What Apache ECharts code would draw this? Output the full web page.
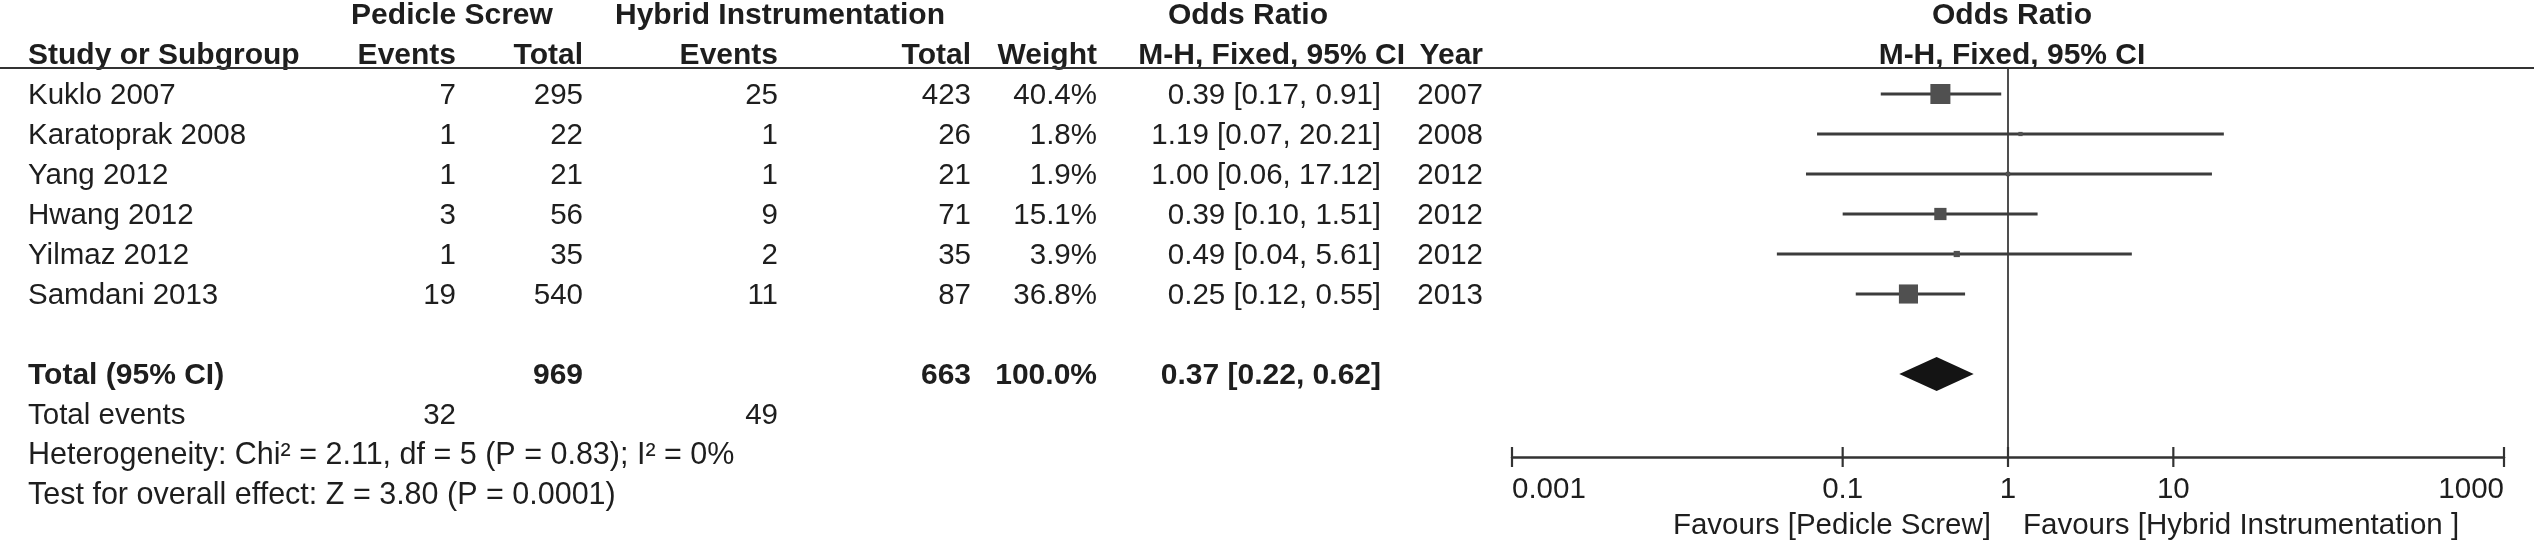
<!DOCTYPE html>
<html>
<head>
<meta charset="utf-8">
<script src="https://cdn.jsdelivr.net/npm/echarts@6/dist/echarts.min.js"></script>
<style>
html,body{margin:0;padding:0;background:#fff;}
#chart{width:2534px;height:544px;}
</style>
</head>
<body>
<div id="chart"></div>
<script>
// ---------------- data ----------------
const studies   = ['Kuklo 2007','Karatoprak 2008','Yang 2012','Hwang 2012','Yilmaz 2012','Samdani 2013'];
const psEvents  = [7, 1, 1, 3, 1, 19];
const psTotal   = [295, 22, 21, 56, 35, 540];
const hiEvents  = [25, 1, 1, 9, 2, 11];
const hiTotal   = [423, 26, 21, 71, 35, 87];
const weights   = [40.4, 1.8, 1.9, 15.1, 3.9, 36.8];
const orValues  = [0.39, 1.19, 1.00, 0.39, 0.49, 0.25];
const ciLow     = [0.17, 0.07, 0.06, 0.10, 0.04, 0.12];
const ciHigh    = [0.91, 20.21, 17.12, 1.51, 5.61, 0.55];
const years     = [2007, 2008, 2012, 2012, 2012, 2013];
const pooledOR  = [0.37, 0.22, 0.62];      // estimate, low, high
const pooledTotals = [969, 663];
const pooledWeight = 100.0;
const totalEvents  = [32, 49];
const heterogeneity = 'Heterogeneity: Chi\u00b2 = 2.11, df = 5 (P = 0.83); I\u00b2 = 0%';
const overallTest   = 'Test for overall effect: Z = 3.80 (P = 0.0001)';
const xTicks      = [0.001, 0.1, 1, 10, 1000];
const xTickLabels = ['0.001', '0.1', '1', '10', '1000'];
const favourLeft  = 'Favours [Pedicle Screw]';
const favourRight = 'Favours [Hybrid Instrumentation ]';

// ---------------- layout ----------------
const FONT = "'Liberation Sans', Arial, Helvetica, sans-serif";
const REG = 29.5, BOLD = 30, FOOT = 30.5;
const TXT = '#1e1e1e';
const colX = {study:28, psE:456, psT:583, hiE:778, hiT:971, wt:1097, orTxt:1381, orHead:1405, year:1483,
              psHead:452, hiHead:780, orHead1:1248, plotHead:2012};
const TOTAL_ROW = 7;

const fmtOR = (o,l,h) => o.toFixed(2) + ' [' + l.toFixed(2) + ', ' + h.toFixed(2) + ']';

// table cells
const cells = [];
function cell(t, col, row, align, bold, size){ cells.push({t:String(t), col, row, align, bold:!!bold, size}); }
cell('Pedicle Screw','psHead',-2,'center',true);
cell('Hybrid Instrumentation','hiHead',-2,'center',true);
cell('Odds Ratio','orHead1',-2,'center',true);
cell('Odds Ratio','plotHead',-2,'center',true);
cell('Study or Subgroup','study',-1,'left',true);
cell('Events','psE',-1,'right',true);
cell('Total','psT',-1,'right',true);
cell('Events','hiE',-1,'right',true);
cell('Total','hiT',-1,'right',true);
cell('Weight','wt',-1,'right',true);
cell('M-H, Fixed, 95% CI','orHead',-1,'right',true);
cell('Year','year',-1,'right',true);
cell('M-H, Fixed, 95% CI','plotHead',-1,'center',true);
studies.forEach((s,i)=>{
  cell(s,'study',i,'left');
  cell(psEvents[i],'psE',i,'right');
  cell(psTotal[i],'psT',i,'right');
  cell(hiEvents[i],'hiE',i,'right');
  cell(hiTotal[i],'hiT',i,'right');
  cell(weights[i].toFixed(1)+'%','wt',i,'right');
  cell(fmtOR(orValues[i],ciLow[i],ciHigh[i]),'orTxt',i,'right');
  cell(years[i],'year',i,'right');
});
cell('Total (95% CI)','study',TOTAL_ROW,'left',true);
cell(pooledTotals[0],'psT',TOTAL_ROW,'right',true);
cell(pooledTotals[1],'hiT',TOTAL_ROW,'right',true);
cell(pooledWeight.toFixed(1)+'%','wt',TOTAL_ROW,'right',true);
cell(fmtOR(pooledOR[0],pooledOR[1],pooledOR[2]),'orTxt',TOTAL_ROW,'right',true);
cell('Total events','study',8,'left');
cell(totalEvents[0],'psE',8,'right');
cell(totalEvents[1],'hiE',8,'right');
cell(heterogeneity,'study',9,'left',false,FOOT);
cell(overallTest,'study',10,'left',false,FOOT);

const chart = echarts.init(document.getElementById('chart'), null, {renderer:'canvas'});

const option = {
  backgroundColor:'#ffffff',
  animation:false,
  grid:{left:1512, right:30, top:68, height:389},
  xAxis:{type:'log', logBase:10, min:0.001, max:1000,
    axisLine:{show:true, onZero:false, lineStyle:{color:'#333', width:2.5}},
    axisTick:{show:false}, axisLabel:{show:false}, splitLine:{show:false}},
  yAxis:{type:'value', min:-0.65, max:9.075, inverse:true, show:false, splitLine:{show:false}},
  graphic:[{type:'line', shape:{x1:0,y1:68,x2:2534,y2:68}, style:{stroke:'#333', lineWidth:2.2}, z:10}],
  series:[
    { // line of no effect
      type:'custom', clip:false, z:2,
      data:[[1]],
      renderItem:(params, api)=>{
        const cs = params.coordSys;
        const p = api.coord([api.value(0), 0]);
        return {type:'line', shape:{x1:p[0], y1:cs.y, x2:p[0], y2:cs.y+cs.height},
                style:{stroke:'#222', lineWidth:1.6}};
      }
    },
    { // study CIs and weighted squares
      type:'custom', clip:false, z:3,
      data: studies.map((s,i)=>[orValues[i], ciLow[i], ciHigh[i], i, weights[i]]),
      renderItem:(params, api)=>{
        const row = api.value(3);
        const c = api.coord([api.value(0), row]);
        const l = api.coord([api.value(1), row]);
        const h = api.coord([api.value(2), row]);
        const side = 3.15*Math.sqrt(api.value(4));
        return {type:'group', children:[
          {type:'line', shape:{x1:l[0], y1:c[1], x2:h[0], y2:c[1]}, style:{stroke:'#3c3c3c', lineWidth:3}},
          {type:'rect', shape:{x:c[0]-side/2, y:c[1]-side/2, width:side, height:side}, style:{fill:'#505050'}}
        ]};
      }
    },
    { // pooled diamond
      type:'custom', clip:false, z:3,
      data:[[pooledOR[0], pooledOR[1], pooledOR[2], TOTAL_ROW]],
      renderItem:(params, api)=>{
        const row = api.value(3);
        const c = api.coord([api.value(0), row]);
        const l = api.coord([api.value(1), row]);
        const h = api.coord([api.value(2), row]);
        const hh = 17;
        return {type:'polygon', shape:{points:[[l[0],c[1]],[c[0],c[1]-hh],[h[0],c[1]],[c[0],c[1]+hh]]},
                style:{fill:'#141414'}};
      }
    },
    { // axis ticks and labels
      type:'custom', clip:false, z:4,
      data: xTicks.map((v,i)=>[v,i]),
      renderItem:(params, api)=>{
        const cs = params.coordSys;
        const idx = api.value(1);
        const p = api.coord([api.value(0), 0]);
        const bottom = cs.y + cs.height;
        const align = idx === 0 ? 'left' : (idx === xTicks.length-1 ? 'right' : 'center');
        return {type:'group', children:[
          {type:'line', shape:{x1:p[0], y1:bottom-10, x2:p[0], y2:bottom+10}, style:{stroke:'#333', lineWidth:2.2}},
          {type:'text', x:p[0], y:bottom+33, style:{text:xTickLabels[idx], fill:TXT, fontSize:REG, fontFamily:FONT,
            align:align, verticalAlign:'middle'}}
        ]};
      }
    },
    { // favours labels
      type:'custom', clip:false, z:4,
      data:[[1]],
      renderItem:(params, api)=>{
        const cs = params.coordSys;
        const p = api.coord([api.value(0), 0]);
        const y = cs.y + cs.height + 69;
        return {type:'group', children:[
          {type:'text', x:p[0]-17, y:y, style:{text:favourLeft, fill:TXT, fontSize:REG, fontFamily:FONT, align:'right', verticalAlign:'middle'}},
          {type:'text', x:p[0]+15, y:y, style:{text:favourRight, fill:TXT, fontSize:REG, fontFamily:FONT, align:'left', verticalAlign:'middle'}}
        ]};
      }
    },
    { // table text
      type:'custom', clip:false, z:5,
      data: cells.map((c,i)=>[1, c.row, i]),
      renderItem:(params, api)=>{
        const c = cells[api.value(2)];
        const p = api.coord([1, api.value(1)]);
        return {type:'text', x:colX[c.col], y:p[1]+2, style:{text:c.t, fill:TXT,
          fontSize: c.size || (c.bold ? BOLD : REG), fontWeight: c.bold ? 'bold' : 'normal', fontFamily:FONT,
          align:c.align, verticalAlign:'middle'}};
      }
    }
  ]
};
chart.setOption(option);
</script>
</body>
</html>
